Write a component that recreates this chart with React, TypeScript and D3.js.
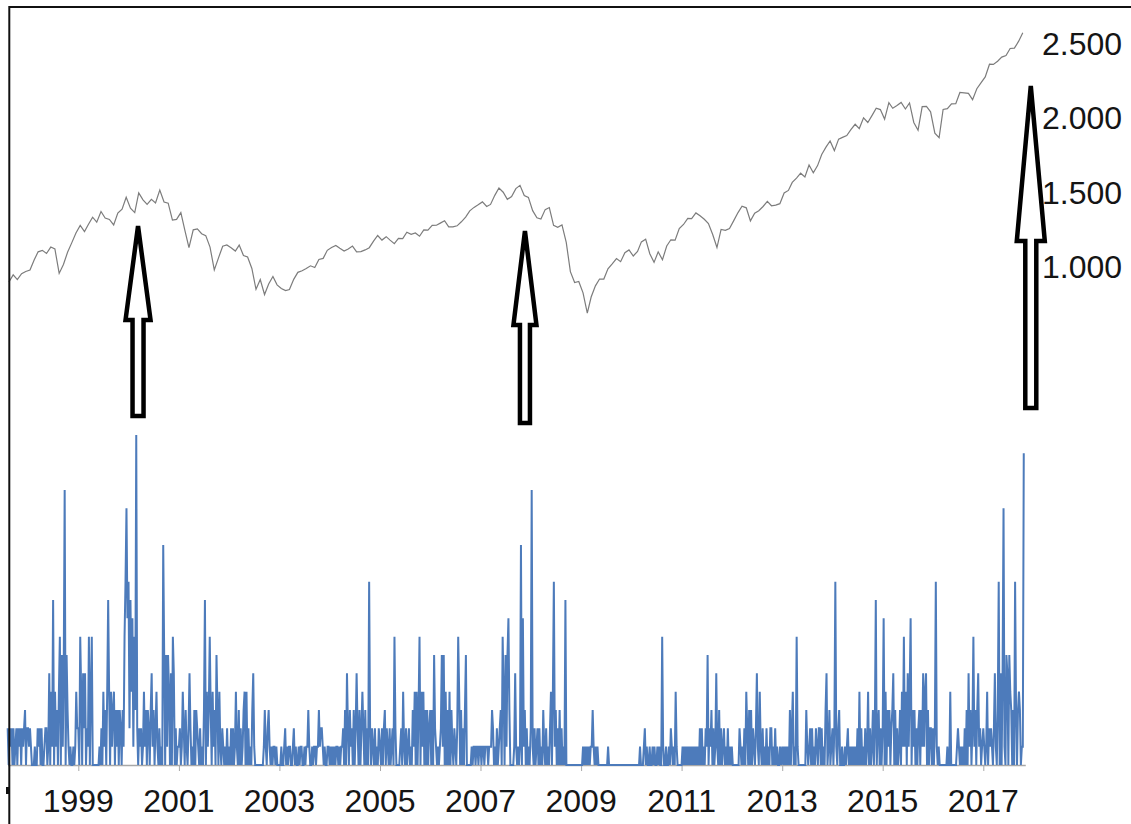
import React, { useEffect, useRef } from "react";
import * as d3 from "d3";

// upper line: index level, one value per month starting Aug 1997
const spxFirstYear = 1997;
const spxFirstMonth = 7; // August (0-based)
const spxCloses: number[] = [
  899, 947, 915, 955, 970,
  980, 1049, 1102, 1112, 1091, 1134, 1121, 957, 1017, 1099, 1164, 1229,
  1280, 1238, 1286, 1335, 1302, 1373, 1329, 1320, 1283, 1363, 1389, 1469,
  1395, 1366, 1499, 1452, 1421, 1455, 1431, 1518, 1437, 1429, 1315, 1320,
  1366, 1240, 1130, 1250, 1256, 1224, 1211, 1134, 980, 1060, 1140, 1148,
  1130, 1107, 1147, 1077, 1067, 990, 850, 916, 815, 886, 936, 880,
  856, 841, 848, 917, 964, 975, 990, 1008, 996, 1051, 1058, 1112,
  1131, 1145, 1126, 1107, 1121, 1141, 1102, 1104, 1115, 1130, 1174, 1212,
  1181, 1204, 1181, 1157, 1192, 1191, 1234, 1220, 1229, 1207, 1250, 1248,
  1280, 1281, 1295, 1311, 1270, 1270, 1277, 1304, 1336, 1378, 1401, 1418,
  1438, 1407, 1421, 1482, 1531, 1503, 1455, 1474, 1527, 1549, 1481, 1468,
  1379, 1331, 1323, 1386, 1400, 1280, 1267, 1283, 1166, 969, 896, 903,
  826, 690, 798, 873, 919, 919, 988, 1021, 1057, 1036, 1096, 1115,
  1074, 1105, 1169, 1187, 1089, 1031, 1102, 1049, 1141, 1183, 1181, 1258,
  1286, 1327, 1326, 1364, 1345, 1321, 1292, 1219, 1131, 1253, 1247, 1258,
  1312, 1366, 1409, 1398, 1310, 1362, 1379, 1407, 1441, 1412, 1416, 1426,
  1498, 1515, 1569, 1598, 1631, 1606, 1686, 1633, 1682, 1757, 1806, 1848,
  1783, 1860, 1872, 1884, 1924, 1960, 1931, 2003, 1972, 2018, 2068, 2059,
  1995, 2105, 2068, 2086, 2107, 2063, 2104, 1972, 1920, 2079, 2080, 2044,
  1900, 1870, 2060, 2065, 2097, 2099, 2174, 2171, 2168, 2126, 2199, 2239,
  2279, 2364, 2363, 2384, 2412, 2423, 2470, 2472, 2519, 2575,
];

// lower line: weekly counts, one base-36 digit per week, one string per year
// (spaces are only there to keep the groups readable)
const signalFirstYear = 1997;
const signalFirstWeek = 31; // the 1997 string starts in week 31
const signalWeeks: string[] = [
  "2021202012 0212021230 2",
  "2121000100212020012201 5041904130470615f063 1010010142",
  "207405250217047 0000000 102041304 9 4041340313032031 7ae8",
  "a2948173 i 2021201 4 1303203 5 1302 4 102010 c 60616 4050 7 50201",
  "1201 4 203102 5 2010 3032 1020103 9 0413 7 304130 6 304 102101020",
  "1020201 4 10302013 4 040 20103 5 1 000000000 13 102 3 1010110100",
  "0010012010110012010010110010113100101101131221010011",
  "010 10101101011 2030 5 203120302 5 20302 4 203020 a 2021020102",
  "10202 3 02102012 0 7 2 0000 120 4 102012010 3140403 7 0414 030302",
  "3030 6 2101012 6160 4030403 102102 7 40 30203 6 00000 101101101",
  "101101110111 3 20102012 30 7 40616 8 30 000 1 5 10101 c 0 8 1 3 02010",
  "2 f 10201202010 3 1020102 40 4a 1 30 20 3 0 201 0 9 000000000000000",
  "00 1010101011 3 10101 0000000000 1 00000000000000000000000",
  "0000000001000120100100101001010071001001021010410000",
  "0 101010101010101010 2 0201021 6 021 3 0201 5 10 3 020120102010",
  "1 000000 02 101020 4 2030302 102 5 10 4 10201020102 2 0102010 010",
  "10101010 3 02 4 010 7 10 000000 03 101 2020102 102 2 020103 5 01 3 01",
  "202 a 102 3 0 010010 12 01010101020 4 020 10201 4 0201 3 02 9 02 3 020",
  "2 8 0 4 03 1302 3 5 03 0 201 3 041 7 140 5 14 8 03 1302 02 3 031 5 14 5 0 3 02 2 0",
  "202 a 101 00000000 10 0 4 000000 12 1010 1 020 3 0 5 1 302 7 1303 5 1201",
  "2101 4 021 2 102 5 103 a 0 505 e 106 5 0 64 30 30 a 303430 1 1 h",
];

const yearTicks = [1999, 2001, 2003, 2005, 2007, 2009, 2011, 2013, 2015, 2017];
const priceTicks = [1000, 1500, 2000, 2500];
// annotation arrows, placed by date
const arrowDates = ["2000-03-10", "2007-11-20", "2017-12-12"];

const W = 1131;
const H = 824;
const FONT = "'Liberation Sans', Arial, sans-serif";

function App() {
  const ref = useRef<SVGSVGElement>(null);

  useEffect(() => {
    drawChart();
  }, []);

  function drawChart() {
    const svg = d3.select(ref.current);
    svg.selectAll("*").remove();

    // scales
    const x = d3
      .scaleTime()
      .domain([new Date(1999, 0, 1), new Date(2017, 0, 1)])
      .range([78.3, 983.3]);
    const yPrice = d3.scaleLinear().domain([1000, 2500]).range([267, 44]);
    const ySignal = d3.scaleLinear().domain([0, 18]).range([765, 435]);

    const price = spxCloses.map((v, i) => ({
      date: new Date(spxFirstYear, spxFirstMonth + i, 15),
      v,
    }));

    const signal: { date: Date; v: number }[] = [];
    signalWeeks.forEach((raw, k) => {
      const s = raw.replace(/\s/g, "");
      const year = signalFirstYear + k;
      const off = k === 0 ? signalFirstWeek : 0;
      for (let i = 0; i < s.length; i++) {
        signal.push({
          date: new Date(year, 0, 1 + 7 * (off + i)),
          v: parseInt(s[i], 36),
        });
      }
    });

    svg.append("rect").attr("width", W).attr("height", H).attr("fill", "#fff");

    // baseline + year ticks of the lower panel
    const xEnd = x(signal[signal.length - 1].date) + 2;
    svg
      .append("line")
      .attr("x1", 8)
      .attr("x2", xEnd)
      .attr("y1", ySignal(0) + 0.5)
      .attr("y2", ySignal(0) + 0.5)
      .attr("stroke", "#a8a8a8")
      .attr("stroke-width", 1.5);

    const tickG = svg.append("g").attr("transform", `translate(0,${ySignal(0) + 1})`);
    tickG.call(
      d3
        .axisBottom(x)
        .tickValues(yearTicks.map((y) => new Date(y, 0, 1)))
        .tickSize(5)
        .tickFormat(() => "")
    );
    tickG.select(".domain").remove();
    tickG.selectAll(".tick line").attr("stroke", "#a8a8a8");

    // year labels
    svg
      .append("g")
      .selectAll("text")
      .data(yearTicks)
      .join("text")
      .attr("x", (y) => x(new Date(y, 0, 1)))
      .attr("y", 812)
      .attr("text-anchor", "middle")
      .attr("font-family", FONT)
      .attr("font-size", 32)
      .attr("fill", "#151515")
      .text((y) => String(y));

    // price labels on the right
    const fmt = d3
      .formatLocale({ decimal: ",", thousands: ".", grouping: [3], currency: ["", ""] })
      .format(",d");
    svg
      .append("g")
      .selectAll("text")
      .data(priceTicks)
      .join("text")
      .attr("x", 1042)
      .attr("y", (v) => yPrice(v) + 11)
      .attr("font-family", FONT)
      .attr("font-size", 32)
      .attr("fill", "#151515")
      .text((v) => fmt(v));

    // lower blue series
    const signalLine = d3
      .line<{ date: Date; v: number }>()
      .x((d) => x(d.date))
      .y((d) => ySignal(d.v));
    svg
      .append("path")
      .datum(signal)
      .attr("d", signalLine)
      .attr("fill", "none")
      .attr("stroke", "#4d7bbb")
      .attr("stroke-width", 2);

    // upper grey price line
    const priceLine = d3
      .line<{ date: Date; v: number }>()
      .x((d) => x(d.date))
      .y((d) => yPrice(d.v));
    svg
      .append("path")
      .datum(price)
      .attr("d", priceLine)
      .attr("fill", "none")
      .attr("stroke", "#7c7c7c")
      .attr("stroke-width", 1.2);

    // hollow arrows
    const arrowShape = [
      { tip: 226, base: 320, bottom: 416, head: 12.5, shaft: 5.5 },
      { tip: 231, base: 325, bottom: 423, head: 11.5, shaft: 5 },
      { tip: 86, base: 241, bottom: 408, head: 14, shaft: 5.5 },
    ];
    svg
      .append("g")
      .selectAll("path")
      .data(arrowDates)
      .join("path")
      .attr("d", (d, i) => {
        const cx = x(new Date(d));
        const a = arrowShape[i];
        return (
          `M${cx},${a.tip} L${cx + a.head},${a.base} L${cx + a.shaft},${a.base} ` +
          `L${cx + a.shaft},${a.bottom} L${cx - a.shaft},${a.bottom} ` +
          `L${cx - a.shaft},${a.base} L${cx - a.head},${a.base} Z`
        );
      })
      .attr("fill", "#fff")
      .attr("stroke", "#000")
      .attr("stroke-width", 4.5);

    // screenshot frame
    svg
      .append("path")
      .attr("d", `M9.3,${H} V7 H${W}`)
      .attr("fill", "none")
      .attr("stroke", "#111")
      .attr("stroke-width", 2);
    svg
      .append("rect")
      .attr("x", 6)
      .attr("y", 787)
      .attr("width", 3)
      .attr("height", 7)
      .attr("fill", "#111");
  }

  return (
    <svg
      ref={ref}
      width={W}
      height={H}
      style={{ position: "absolute", left: 0, top: 0, display: "block" }}
    />
  );
}

export default App;
